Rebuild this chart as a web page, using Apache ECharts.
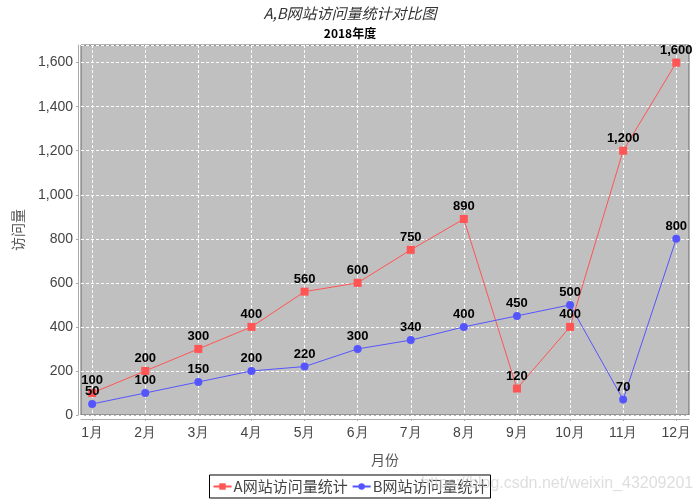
<!DOCTYPE html>
<html>
<head>
<meta charset="utf-8">
<script src="https://cdn.jsdelivr.net/npm/echarts@6/dist/echarts.min.js"></script>
<style>
  html, body { margin: 0; padding: 0; background: #fff; }
  #main { width: 700px; height: 500px; }
</style>
</head>
<body>
<div id="main"></div>
<script>
// 月份 + 两个网站的访问量
const months = ['1月', '2月', '3月', '4月', '5月', '6月', '7月', '8月', '9月', '10月', '11月', '12月']
const siteA = [100, 200, 300, 400, 560, 600, 750, 890, 120, 400, 1200, 1600]
const siteB = [50, 100, 150, 200, 220, 300, 340, 400, 450, 500, 70, 800]
const yTicks = [0, 200, 400, 600, 800, 1000, 1200, 1400, 1600]

const monthIdx = months.map((m, i) => i)
const fmt = v => Number(v).toLocaleString('en-US')

const myChart = echarts.init(document.getElementById('main'))
const option = {
  animation: false,
  title: {
    text: 'A,B网站访问量统计对比图',
    subtext: '2018年度',
    left: 'center',
    top: 1,
    itemGap: 6,
    textStyle: {
      fontFamily: 'Noto Sans CJK SC',
      fontStyle: 'italic',
      fontWeight: 'normal',
      fontSize: 15,
      color: '#333'
    },
    subtextStyle: {
      fontFamily: 'Noto Sans CJK SC',
      fontWeight: 'bold',
      fontSize: 12,
      color: '#000'
    }
  },
  grid: {
    left: 81,
    right: 11,
    top: 45,
    bottom: 85,
    show: true,
    backgroundColor: '#c0c0c0',
    borderColor: '#666',
    borderWidth: 1
  },
  xAxis: {
    type: 'value',
    min: -0.21,
    max: 11.24,
    offset: 4,
    name: '月份',
    nameLocation: 'middle',
    nameGap: 34,
    nameTextStyle: { fontFamily: 'Noto Sans CJK SC', fontSize: 14, color: '#555' },
    axisLine: { show: true, onZero: false, lineStyle: { color: '#aaa' } },
    axisTick: { show: true, length: 2, customValues: monthIdx, lineStyle: { color: '#aaa' } },
    axisLabel: {
      customValues: monthIdx,
      formatter: v => months[Math.round(v)],
      fontFamily: 'Liberation Sans',
      fontSize: 14,
      color: '#444',
      margin: 7
    },
    splitLine: { show: true, lineStyle: { color: '#fff', type: [3, 2], width: 1 } }
  },
  yAxis: {
    type: 'value',
    min: 0,
    max: 1680,
    interval: 200,
    offset: 3,
    name: '访问量',
    nameLocation: 'middle',
    nameGap: 53,
    nameTextStyle: { fontFamily: 'Noto Sans CJK SC', fontSize: 14, color: '#555' },
    axisLine: { show: true, onZero: false, lineStyle: { color: '#aaa' } },
    axisTick: { show: true, length: 2, lineStyle: { color: '#aaa' } },
    axisLabel: {
      formatter: v => (yTicks.indexOf(v) >= 0 ? fmt(v) : ''),
      showMaxLabel: false,
      fontFamily: 'Liberation Sans',
      fontSize: 14,
      color: '#444',
      margin: 5
    },
    splitLine: { show: true, lineStyle: { color: '#fff', type: [3, 2], width: 1 } }
  },
  legend: {
    bottom: 2,
    left: 'center',
    itemWidth: 18,
    itemHeight: 8,
    itemGap: 4,
    padding: [4, 3],
    borderColor: '#000',
    borderWidth: 1,
    textStyle: { fontFamily: 'Noto Sans CJK SC', fontSize: 15, color: '#444', padding: [0, 0, 0, -3] },
    data: ['A网站访问量统计', 'B网站访问量统计']
  },
  series: [
    {
      name: 'A网站访问量统计',
      type: 'line',
      data: siteA.map((v, i) => [i, v]),
      symbol: 'rect',
      symbolSize: 8,
      color: '#ff5555',
      lineStyle: { width: 1 },
      label: {
        show: true,
        position: 'top',
        distance: 2,
        formatter: p => fmt(p.value[1]),
        fontFamily: 'Liberation Sans',
        fontWeight: 'bold',
        fontSize: 13,
        color: '#000'
      }
    },
    {
      name: 'B网站访问量统计',
      type: 'line',
      data: siteB.map((v, i) => [i, v]),
      symbol: 'circle',
      symbolSize: 8,
      color: '#5555ff',
      lineStyle: { width: 1 },
      label: {
        show: true,
        position: 'top',
        distance: 2,
        formatter: p => fmt(p.value[1]),
        fontFamily: 'Liberation Sans',
        fontWeight: 'bold',
        fontSize: 13,
        color: '#000'
      }
    }
  ],
  graphic: {
    elements: [
      {
        type: 'text',
        left: 421,
        top: 476,
        silent: true,
        z: 100,
        style: {
          text: 'https://blog.csdn.net/weixin_43209201',
          font: '16px "Liberation Sans"',
          fill: 'rgba(200,200,200,0.6)'
        }
      }
    ]
  }
}
myChart.setOption(option)
</script>
</body>
</html>
